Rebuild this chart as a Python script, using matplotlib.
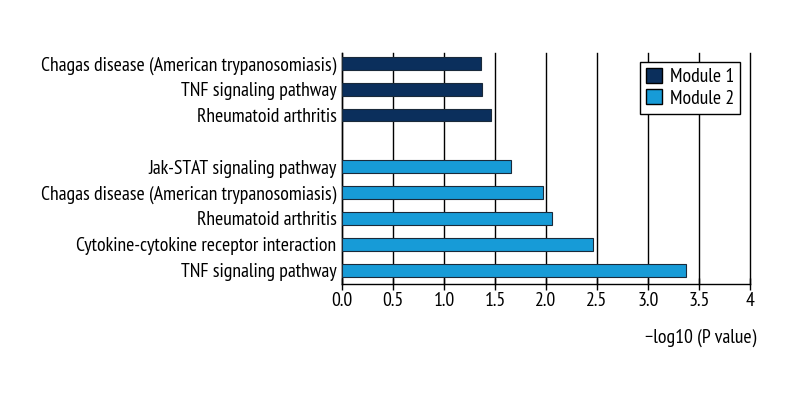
import matplotlib.pyplot as plt
from matplotlib.patches import Patch

plt.rcParams['font.family'] = ['PT Sans Narrow', 'DejaVu Sans']

module1_terms = ['Rheumatoid arthritis', 'TNF signaling pathway',
                 'Chagas disease (American trypanosomiasis)']
module1_values = [1.46, 1.37, 1.36]

module2_terms = ['TNF signaling pathway', 'Cytokine-cytokine receptor interaction',
                 'Rheumatoid arthritis', 'Chagas disease (American trypanosomiasis)',
                 'Jak-STAT signaling pathway']
module2_values = [3.37, 2.46, 2.06, 1.97, 1.66]

x_ticks = [0, 0.5, 1.0, 1.5, 2.0, 2.5, 3.0, 3.5, 4]
x_tick_labels = ['0.0', '0.5', '1.0', '1.5', '2.0', '2.5', '3.0', '3.5', '4']

color_m1 = '#0b2f5c'
color_m2 = '#179bd7'
fs = 14.2

fig = plt.figure(figsize=(8, 4), dpi=100)
ax = fig.add_axes([0.4275, 0.29, 0.51, 0.5775])

# module 2 at the bottom, then one empty slot, then module 1
pos2 = list(range(len(module2_terms)))
pos1 = [len(module2_terms) + 1 + i for i in range(len(module1_terms))]

ax.barh(pos2, module2_values, height=0.5, color=color_m2, edgecolor='#1a2a3a', linewidth=0.8, zorder=3)
ax.barh(pos1, module1_values, height=0.5, color=color_m1, edgecolor='#1a2a3a', linewidth=0.8, zorder=3)

ax.set_yticks(pos2 + pos1)
ax.set_yticklabels(module2_terms + module1_terms, fontsize=fs)
ax.tick_params(axis='y', length=0, pad=4)

ax.set_xlim(0, 4)
ax.set_ylim(-0.54, 8.4)
ax.set_xticks(x_ticks)
ax.set_xticklabels(x_tick_labels, fontsize=fs)
ax.tick_params(axis='x', direction='inout', length=8, width=1, pad=2)

ax.grid(axis='x', color='black', linewidth=1, zorder=0)
for gl in ax.get_xgridlines():
    gl.set_clip_on(False)
for s in ['top', 'right']:
    ax.spines[s].set_visible(False)
ax.spines['left'].set_linewidth(1)
ax.spines['bottom'].set_linewidth(1)

fig.text(0.945, 0.155, '\u2212log10 (P value)', ha='right', va='center', fontsize=fs)

handles = [Patch(facecolor=color_m1, edgecolor='black', label='Module 1'),
           Patch(facecolor=color_m2, edgecolor='black', label='Module 2')]
leg = ax.legend(handles=handles, loc='upper right', bbox_to_anchor=(0.975, 0.961),
                borderaxespad=0,
                fontsize=fs, frameon=True, fancybox=False, edgecolor='black',
                handlelength=0.8, handleheight=0.8, handletextpad=0.4,
                borderpad=0.3, labelspacing=0.15, framealpha=1)
leg.get_frame().set_linewidth(1)
leg.set_zorder(5)

fig.savefig('out.png', dpi=100, facecolor='white')
